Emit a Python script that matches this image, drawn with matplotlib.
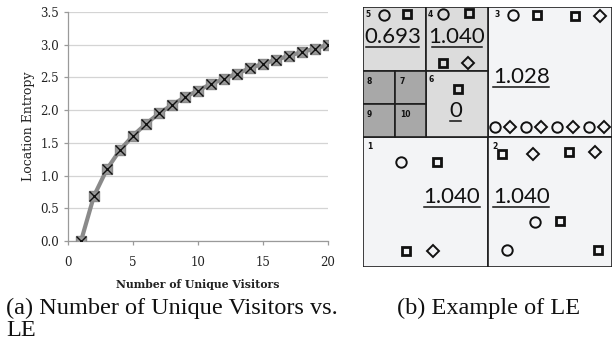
import matplotlib
matplotlib.use("Agg")
import matplotlib.pyplot as plt
from matplotlib.patches import Rectangle

# ---- data for panel (a) ----
visitors = list(range(1, 21))
entropy = [0.00, 0.69, 1.10, 1.39, 1.61, 1.79, 1.95, 2.08, 2.20, 2.30,
           2.40, 2.48, 2.56, 2.64, 2.71, 2.77, 2.83, 2.89, 2.94, 3.00]
x_ticks = [0, 5, 10, 15, 20]
y_ticks = [0.0, 0.5, 1.0, 1.5, 2.0, 2.5, 3.0, 3.5]

# ---- data for panel (b) ----
cell_values = ["0.693", "1.040", "0", "1.028", "1.040", "1.040"]
cell_ids = ["1", "2", "3", "4", "5", "6", "7", "8", "9", "10"]

W, H = 615, 352
fig = plt.figure(figsize=(W / 100, H / 100), dpi=100)
axserif = ["DejaVu Serif"]

# ---------------- panel (a) ----------------
ax = fig.add_axes([68 / W, 1 - 241 / H, 260 / W, 229 / H])
ax.plot(visitors, entropy, color="#8a8a8a", lw=3, zorder=3)
ax.plot(visitors, entropy, ls="none", marker="s", ms=7.5, mfc="#9a9a9a",
        mec="#8a8a8a", zorder=4)
ax.plot(visitors, entropy, ls="none", marker="x", ms=7, mew=1.0,
        color="#111111", zorder=5)
ax.set_xlim(0, 20)
ax.set_ylim(0, 3.5)
ax.set_xticks(x_ticks)
ax.set_yticks(y_ticks)
ax.set_yticklabels([f"{v:.1f}" for v in y_ticks])
ax.grid(axis="y", color="#d4d4d4", lw=0.9)
ax.set_axisbelow(True)
for s in ["top", "right"]:
    ax.spines[s].set_visible(False)
for s in ["left", "bottom"]:
    ax.spines[s].set_color("#9a9a9a")
    ax.spines[s].set_linewidth(0.9)
ax.tick_params(axis="both", colors="#9a9a9a", length=3, width=0.9,
               labelcolor="#222222", labelsize=8.5)
ax.tick_params(axis="x", pad=8)
for lab in ax.get_xticklabels() + ax.get_yticklabels():
    lab.set_family(axserif)
ax.set_ylabel("Location Entropy", family=axserif, fontsize=9, color="#222222",
              labelpad=4)
ax.set_xlabel("Number of Unique Visitors", family=axserif, fontsize=7.8,
              fontweight="bold", color="#222222", labelpad=7)

# ---------------- panel (b) ----------------
bx = fig.add_axes([363 / W, 1 - 267 / H, 249 / W, 260 / H])
bx.set_xlim(25, 770)
bx.set_ylim(800, 22)
bx.axis("off")

light = "#f3f4f6"
mid = "#dcdcdc"
dark = "#a8a8a8"
edge = "#1e1e1e"
lw = 1.2

def rect(x0, y0, x1, y1, fc):
    bx.add_patch(Rectangle((x0, y0), x1 - x0, y1 - y0, facecolor=fc,
                           edgecolor=edge, lw=lw, zorder=1))

rect(25, 22, 400, 410, light)
rect(400, 22, 770, 410, light)
rect(25, 410, 400, 800, light)
rect(400, 410, 770, 800, light)
rect(25, 22, 213, 215, mid)
rect(213, 22, 400, 215, mid)
rect(213, 215, 400, 410, mid)
rect(25, 215, 120, 312, dark)
rect(120, 215, 213, 312, dark)
rect(25, 312, 120, 410, dark)
rect(120, 312, 213, 410, dark)

def lab(x, y, t):
    bx.text(x, y, t, fontsize=5.5, fontweight="bold", ha="left", va="center",
            family=["DejaVu Sans"], color="#111111", zorder=3)

lab(32, 45, cell_ids[4]); lab(220, 45, cell_ids[3]); lab(418, 45, cell_ids[2])
lab(35, 245, cell_ids[7]); lab(135, 245, cell_ids[6])
lab(35, 345, cell_ids[8]); lab(135, 345, cell_ids[9])
lab(222, 240, cell_ids[5]); lab(38, 438, cell_ids[0]); lab(412, 438, cell_ids[1])

def val(x0, x1, yb, t):
    bx.text((x0 + x1) / 2, yb, t, fontsize=16, ha="center", va="baseline",
            family=["Lato", "DejaVu Sans"], color="#111111", zorder=3)
    bx.plot([x0, x1], [yb + 12, yb + 12], color="#111111", lw=1.1, zorder=3)

val(35, 192, 131, cell_values[0])
val(230, 380, 131, cell_values[1])
val(285, 318, 350, cell_values[2])
val(415, 583, 250, cell_values[3])
val(207, 376, 608, cell_values[4])
val(415, 583, 608, cell_values[5])

def sym(x, y, m):
    size = {"o": 7.5, "s": 6.2, "D": 6.5}[m]
    bx.plot([x], [y], marker=m, ms=size, mfc="none", mec="#111111",
            mew=1.4 if m != "s" else 2.0, ls="none", zorder=3)

for (x, y, m) in [(88, 45, "o"), (157, 43, "s"),
                  (265, 42, "o"), (343, 40, "s"), (265, 190, "s"), (338, 190, "D"),
                  (473, 47, "o"), (545, 45, "s"), (660, 50, "s"), (735, 50, "D"),
                  (310, 268, "s"),
                  (420, 382, "o"), (465, 382, "D"), (512, 382, "o"), (557, 382, "D"),
                  (605, 382, "o"), (653, 382, "D"), (700, 382, "o"), (745, 382, "D"),
                  (140, 485, "o"), (245, 485, "s"), (155, 752, "s"), (235, 752, "D"),
                  (442, 462, "s"), (533, 462, "D"), (640, 457, "s"), (720, 457, "D"),
                  (540, 665, "o"), (615, 662, "s"), (455, 750, "o"), (727, 750, "s")]:
    sym(x, y, m)

# ---------------- captions ----------------
fig.text(6 / W, 1 - 308 / H, "(a) Number of Unique Visitors vs.",
         family="Liberation Serif", fontsize=17.5, va="center", ha="left",
         color="#111111")
fig.text(6 / W, 1 - 331 / H, "LE", family="Liberation Serif", fontsize=17.5,
         va="center", ha="left", color="#111111")
fig.text(397 / W, 1 - 308 / H, "(b) Example of LE", family="Liberation Serif",
         fontsize=17.5, va="center", ha="left", color="#111111")

fig.savefig("out.png", dpi=100, facecolor="white")
